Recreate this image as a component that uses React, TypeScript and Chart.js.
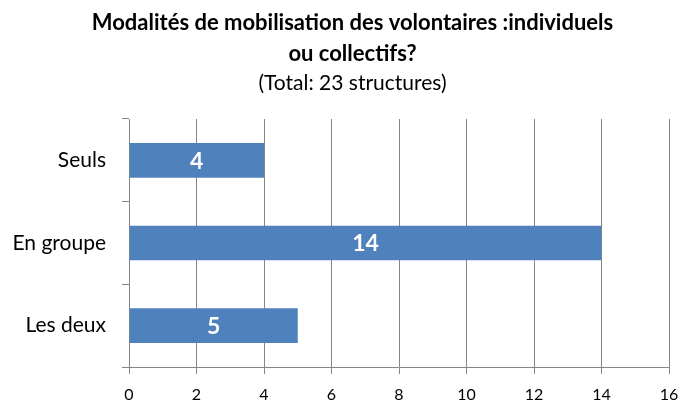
import React, { useEffect, useRef } from "react";
import { Chart, registerables } from "chart.js";

Chart.register(...registerables);

const categories = ["Seuls", "En groupe", "Les deux"];
const values = [4, 14, 5];
const titleLines = ["Modalités de mobilisation des volontaires :individuels", "ou collectifs?"];
const subtitleText = "(Total: 23 structures)";
const xMin = 0;
const xMax = 16;
const xStep = 2;

const FONT = "Lato, 'Open Sans', sans-serif";

const valueLabels = {
  id: "valueLabels",
  afterDatasetsDraw(chart: any) {
    const ctx = chart.ctx;
    const meta = chart.getDatasetMeta(0);
    ctx.save();
    ctx.fillStyle = "#ffffff";
    ctx.font = `bold 23px ${FONT}`;
    ctx.textAlign = "center";
    ctx.textBaseline = "middle";
    meta.data.forEach((bar: any, i: number) => {
      const cx = (bar.x + bar.base) / 2;
      ctx.fillText(String(values[i]), cx, bar.y + 1);
    });
    ctx.restore();
  },
};

// shift title/subtitle blocks so they are centred like the reference
const shiftTitles = {
  id: "shiftTitles",
  afterLayout(chart: any) {
    const shift = 18;
    chart.boxes.forEach((b: any) => {
      if (b && b.options && b.options.text !== undefined && !b.axis && typeof b._drawArgs === "function") {
        b.left += shift;
        b.right += shift;
      }
    });
  },
};

export default function App() {
  const ref = useRef<HTMLCanvasElement | null>(null);
  useEffect(() => {
    if (!ref.current) return;
    const chart = new Chart(ref.current, {
      type: "bar",
      data: {
        labels: categories,
        datasets: [
          {
            data: values,
            backgroundColor: "#4F81BD",
            borderColor: "#4F81BD",
            borderWidth: 0,
            barPercentage: 0.42,
            categoryPercentage: 1,
          },
        ],
      },
      options: {
        indexAxis: "y",
        animation: false,
        responsive: false,
        maintainAspectRatio: false,
        layout: { padding: { top: 0, right: 15, bottom: 0, left: 0 } },
        plugins: {
          legend: { display: false },
          tooltip: { enabled: false },
          title: {
            display: true,
            text: titleLines,
            color: "#000000",
            font: { family: FONT, size: 22, weight: "bold", lineHeight: "31px" },
            padding: { top: 7, bottom: 0 },
          },
          subtitle: {
            display: true,
            text: subtitleText,
            color: "#000000",
            font: { family: FONT, size: 21, weight: "normal", lineHeight: "28px" },
            padding: { top: 0, bottom: 22 },
          },
        },
        scales: {
          x: {
            type: "linear",
            min: xMin,
            max: xMax,
            ticks: {
              stepSize: xStep,
              color: "#000000",
              font: { family: FONT, size: 16 },
              padding: 11,
            },
            grid: {
              color: "#868686",
              lineWidth: 1,
              drawOnChartArea: true,
              drawTicks: true,
              tickLength: 7,
            },
            border: { display: true, color: "#868686", width: 1 },
            afterFit(scale: any) {
              scale.height = 36;
              scale.paddingRight = 0;
              scale.paddingLeft = 0;
            },
          },
          y: {
            type: "category",
            offset: true,
            ticks: {
              color: "#000000",
              font: { family: FONT, size: 21 },
              padding: 16,
            },
            grid: {
              offset: true,
              drawOnChartArea: false,
              drawTicks: true,
              tickLength: 7,
              color: "#868686",
            },
            border: { display: true, color: "#868686", width: 1 },
            afterFit(scale: any) {
              scale.width = 129;
            },
          },
        },
      },
      plugins: [valueLabels, shiftTitles],
    });
    return () => chart.destroy();
  }, []);
  return (
    <div style={{ position: "fixed", left: 0, top: 0, width: 684, height: 403, background: "#fff" }}>
      <canvas ref={ref} width={684} height={403} style={{ width: 684, height: 403, display: "block" }} />
    </div>
  );
}
